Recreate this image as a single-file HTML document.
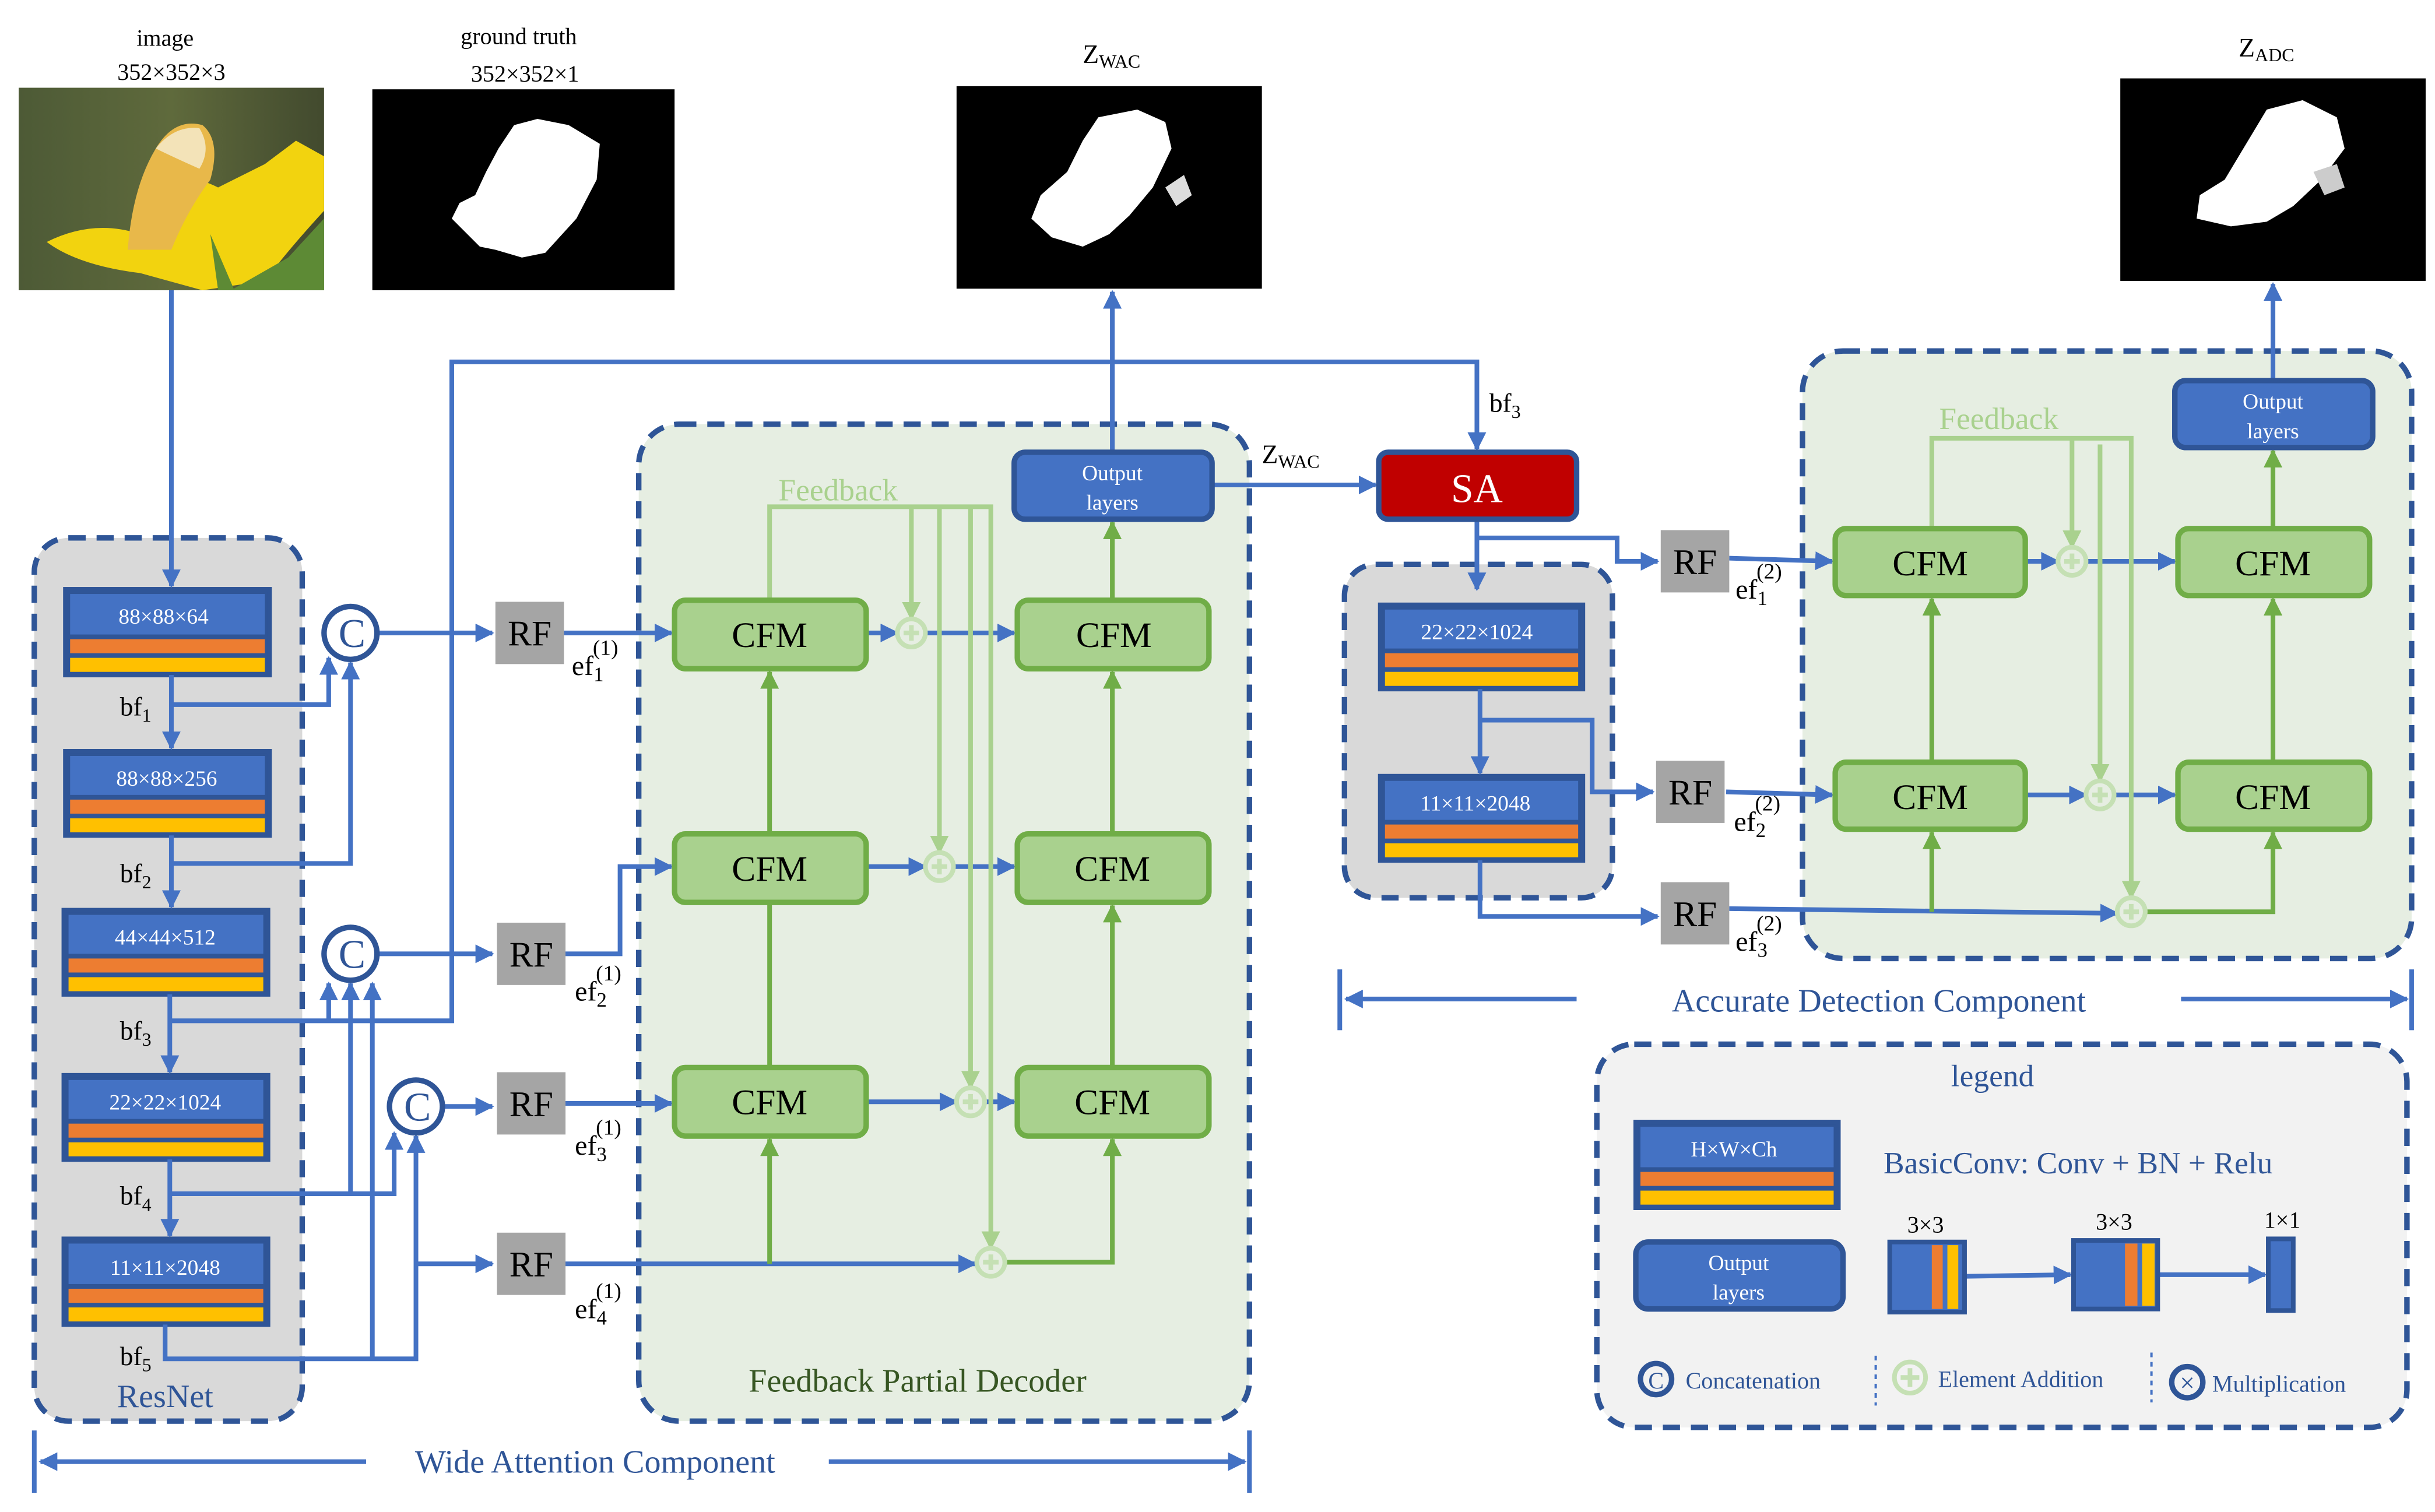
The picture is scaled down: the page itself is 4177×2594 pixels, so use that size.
<!DOCTYPE html>
<html><head><meta charset="utf-8"><style>
html,body{margin:0;padding:0;background:#fff;}
svg{display:block;}
text{font-family:"Liberation Serif",serif;}
</style></head><body>
<svg width="4177" height="2594" viewBox="0 0 1563 970" xmlns="http://www.w3.org/2000/svg">
<defs>
<marker id="ab" viewBox="0 0 10 10" refX="9" refY="5" markerWidth="4" markerHeight="4" orient="auto" markerUnits="strokeWidth"><path d="M0,0L10,5L0,10z" fill="#4472C4"/></marker>
<marker id="ag" viewBox="0 0 10 10" refX="9" refY="5" markerWidth="4" markerHeight="4" orient="auto" markerUnits="strokeWidth"><path d="M0,0L10,5L0,10z" fill="#70AD47"/></marker>
<marker id="al" viewBox="0 0 10 10" refX="9" refY="5" markerWidth="4" markerHeight="4" orient="auto" markerUnits="strokeWidth"><path d="M0,0L10,5L0,10z" fill="#A9D18E"/></marker>
<linearGradient id="bgimg" x1="0" x2="1" y1="0" y2="0"><stop offset="0" stop-color="#4d5a36"/><stop offset="0.5" stop-color="#5f6a3c"/><stop offset="1" stop-color="#424a2e"/></linearGradient>
</defs>

<text x="106" y="29" font-size="15" text-anchor="middle">image</text>
<text x="110" y="51" font-size="15" text-anchor="middle">352×352×3</text>
<text x="333" y="28" font-size="15" text-anchor="middle">ground truth</text>
<text x="337" y="52" font-size="15" text-anchor="middle">352×352×1</text>
<text x="695" y="40" font-size="17">Z<tspan font-size="12" dy="3">WAC</tspan></text>
<text x="1437" y="36" font-size="17">Z<tspan font-size="12" dy="3">ADC</tspan></text>

<rect x="12" y="56" width="196" height="130" fill="url(#bgimg)"/>
<path d="M30,155 Q60,140 90,150 L110,118 Q120,110 140,120 L170,105 L190,90 L208,100 L208,135 Q185,160 170,180 L130,186 L90,175 Q50,170 30,155z" fill="#f2d30f"/>
<path d="M82,160 Q85,120 100,95 Q112,75 130,80 Q142,90 135,115 Q120,135 110,160z" fill="#e8b84a"/>
<path d="M100,95 Q112,80 128,82 Q136,95 128,108 Q110,100 100,95z" fill="#f3e3b8"/>
<path d="M135,150 L150,185 L185,165 L208,140 L208,186 L140,186z" fill="#5d8a35"/>

<rect x="239" y="57" width="194" height="129" fill="#000"/>
<path d="M330,80 L345,76 L365,80 L385,92 L383,115 L370,140 L350,162 L335,165 L318,160 L308,158 L300,150 L290,140 L295,130 L305,125 L312,110 L320,95z" fill="#fff"/>
<rect x="614" y="55" width="196" height="130" fill="#000"/>
<path d="M705,75 L730,70 L748,78 L752,95 L740,120 L725,138 L712,150 L695,158 L675,152 L662,140 L668,125 L685,110 L695,90z" fill="#fff"/>
<path d="M748,120 L760,112 L765,125 L755,132z" fill="#ddd"/>
<rect x="1361" y="50" width="196" height="130" fill="#000"/>
<path d="M1455,70 L1478,64 L1500,75 L1505,95 L1490,115 L1472,132 L1455,142 L1432,145 L1410,140 L1412,125 L1428,115 L1440,95z" fill="#fff"/>
<path d="M1485,110 L1500,105 L1505,120 L1492,125z" fill="#ccc"/>

<rect x="22" y="345" width="172" height="567" rx="22" fill="#D9D9D9" stroke="#2F5597" stroke-width="3.5" stroke-dasharray="11,7"/>
<rect x="410" y="272" width="392" height="640" rx="26" fill="#E6EEE2" stroke="#2F5597" stroke-width="3.5" stroke-dasharray="11,7"/>
<rect x="863" y="362" width="172" height="214" rx="20" fill="#D9D9D9" stroke="#2F5597" stroke-width="3.5" stroke-dasharray="11,7"/>
<rect x="1157" y="225" width="391" height="390" rx="26" fill="#E6EEE2" stroke="#2F5597" stroke-width="3.5" stroke-dasharray="11,7"/>
<rect x="1025" y="670" width="520" height="246" rx="24" fill="#F2F2F2" stroke="#2F5597" stroke-width="3.5" stroke-dasharray="11,7"/>

<text x="106" y="903" font-size="21" fill="#2F5597" text-anchor="middle">ResNet</text>
<text x="589" y="893" font-size="21" fill="#375623" text-anchor="middle">Feedback Partial Decoder</text>

<g stroke="#2F5597" stroke-width="3">
<rect x="42" y="378" width="131" height="55" fill="#2F5597"/>
<rect x="42" y="482" width="131" height="54" fill="#2F5597"/>
<rect x="41" y="584" width="131" height="54" fill="#2F5597"/>
<rect x="41" y="690" width="131" height="54" fill="#2F5597"/>
<rect x="41" y="795" width="131" height="55" fill="#2F5597"/>
<rect x="886" y="388" width="130" height="54" fill="#2F5597"/>
<rect x="886" y="498" width="130" height="54" fill="#2F5597"/>
<rect x="1050" y="720" width="130" height="55" fill="#2F5597"/>
</g>
<g stroke="none">
<rect x="45" y="381" width="125" height="26" fill="#4472C4"/><rect x="45" y="410" width="125" height="9" fill="#ED7D31"/><rect x="45" y="422" width="125" height="9" fill="#FFC000"/>
<rect x="45" y="485" width="125" height="25" fill="#4472C4"/><rect x="45" y="513" width="125" height="9" fill="#ED7D31"/><rect x="45" y="525" width="125" height="9" fill="#FFC000"/>
<rect x="44" y="587" width="125" height="25" fill="#4472C4"/><rect x="44" y="615" width="125" height="9" fill="#ED7D31"/><rect x="44" y="627" width="125" height="9" fill="#FFC000"/>
<rect x="44" y="693" width="125" height="25" fill="#4472C4"/><rect x="44" y="721" width="125" height="9" fill="#ED7D31"/><rect x="44" y="733" width="125" height="9" fill="#FFC000"/>
<rect x="44" y="798" width="125" height="26" fill="#4472C4"/><rect x="44" y="827" width="125" height="9" fill="#ED7D31"/><rect x="44" y="839" width="125" height="9" fill="#FFC000"/>
<rect x="889" y="391" width="124" height="25" fill="#4472C4"/><rect x="889" y="419" width="124" height="9" fill="#ED7D31"/><rect x="889" y="431" width="124" height="9" fill="#FFC000"/>
<rect x="889" y="501" width="124" height="25" fill="#4472C4"/><rect x="889" y="529" width="124" height="9" fill="#ED7D31"/><rect x="889" y="541" width="124" height="9" fill="#FFC000"/>
<rect x="1053" y="723" width="124" height="26" fill="#4472C4"/><rect x="1053" y="752" width="124" height="9" fill="#ED7D31"/><rect x="1053" y="764" width="124" height="9" fill="#FFC000"/>
</g>
<g fill="#fff" font-size="14" text-anchor="middle">
<text x="105" y="400">88×88×64</text>
<text x="107" y="504">88×88×256</text>
<text x="106" y="606">44×44×512</text>
<text x="106" y="712">22×22×1024</text>
<text x="106" y="818">11×11×2048</text>
<text x="948" y="410">22×22×1024</text>
<text x="947" y="520">11×11×2048</text>
<text x="1113" y="742">H×W×Ch</text>
</g>

<g font-size="17">
<text x="77" y="459">bf<tspan font-size="12" dy="4">1</tspan></text>
<text x="77" y="566">bf<tspan font-size="12" dy="4">2</tspan></text>
<text x="77" y="667">bf<tspan font-size="12" dy="4">3</tspan></text>
<text x="77" y="773">bf<tspan font-size="12" dy="4">4</tspan></text>
<text x="77" y="876">bf<tspan font-size="12" dy="4">5</tspan></text>
<text x="956" y="264">bf<tspan font-size="12" dy="4">3</tspan></text>
<text x="810" y="297">Z<tspan font-size="12" dy="3">WAC</tspan></text>
</g>

<g fill="none" stroke="#4472C4" stroke-width="3">
<path d="M110,186V376" marker-end="url(#ab)"/>
<path d="M110,433V480" marker-end="url(#ab)"/>
<path d="M110,536V582" marker-end="url(#ab)"/>
<path d="M109,638V688" marker-end="url(#ab)"/>
<path d="M109,744V793" marker-end="url(#ab)"/>
<path d="M110,452H211V422" marker-end="url(#ab)"/>
<path d="M110,554H225V425" marker-end="url(#ab)"/>
<path d="M110,655H290V232H948V288" marker-end="url(#ab)"/>
<path d="M211,655V631" marker-end="url(#ab)"/>
<path d="M109,766H253V727" marker-end="url(#ab)"/>
<path d="M225,766V631" marker-end="url(#ab)"/>
<path d="M106,850V872H267V729" marker-end="url(#ab)"/>
<path d="M239,872V631" marker-end="url(#ab)"/>
<path d="M267,811H316" marker-end="url(#ab)"/>
<path d="M243,406H316" marker-end="url(#ab)"/>
<path d="M243,612H316" marker-end="url(#ab)"/>
<path d="M285,710H316" marker-end="url(#ab)"/>
<path d="M362,406H431" marker-end="url(#ab)"/>
<path d="M362,612H398V556H431" marker-end="url(#ab)"/>
<path d="M362,708H431" marker-end="url(#ab)"/>
<path d="M362,811H626" marker-end="url(#ab)"/>
<path d="M556,406H576" marker-end="url(#ab)"/>
<path d="M594,406H651" marker-end="url(#ab)"/>
<path d="M556,556H594" marker-end="url(#ab)"/>
<path d="M612,556H651" marker-end="url(#ab)"/>
<path d="M556,707H614" marker-end="url(#ab)"/>
<path d="M632,707H651" marker-end="url(#ab)"/>
<path d="M714,290V187" marker-end="url(#ab)"/>
<path d="M778,311H883" marker-end="url(#ab)"/>
<path d="M948,333V378" marker-end="url(#ab)"/>
<path d="M948,345H1038V360H1064" marker-end="url(#ab)"/>
<path d="M950,442V496" marker-end="url(#ab)"/>
<path d="M950,462H1022V508H1061" marker-end="url(#ab)"/>
<path d="M950,552V588H1064" marker-end="url(#ab)"/>
<path d="M1110,358L1176,360" marker-end="url(#ab)"/>
<path d="M1108,508L1176,510" marker-end="url(#ab)"/>
<path d="M1110,583L1359,586" marker-end="url(#ab)"/>
<path d="M1300,360H1321" marker-end="url(#ab)"/>
<path d="M1339,360H1396" marker-end="url(#ab)"/>
<path d="M1300,510H1339" marker-end="url(#ab)"/>
<path d="M1357,510H1396" marker-end="url(#ab)"/>
<path d="M1459,244V182" marker-end="url(#ab)"/>
<path d="M1262,819L1329,818" marker-end="url(#ab)"/>
<path d="M1385,818H1454" marker-end="url(#ab)"/>
</g>

<g fill="none" stroke="#70AD47" stroke-width="3">
<path d="M494,685V431" marker-end="url(#ag)"/>
<path d="M494,811V731" marker-end="url(#ag)"/>
<path d="M714,685V581" marker-end="url(#ag)"/>
<path d="M714,535V431" marker-end="url(#ag)"/>
<path d="M714,385V335" marker-end="url(#ag)"/>
<path d="M645,810H714V731" marker-end="url(#ag)"/>
<path d="M1240,489V384" marker-end="url(#ag)"/>
<path d="M1240,585V534" marker-end="url(#ag)"/>
<path d="M1377,585H1459V534" marker-end="url(#ag)"/>
<path d="M1459,489V384" marker-end="url(#ag)"/>
<path d="M1459,339V289" marker-end="url(#ag)"/>
</g>
<g fill="none" stroke="#A9D18E" stroke-width="3">
<path d="M494,385V325H636V801" marker-end="url(#al)"/>
<path d="M585,325V397" marker-end="url(#al)"/>
<path d="M603,325V547" marker-end="url(#al)"/>
<path d="M623,325V698" marker-end="url(#al)"/>
<path d="M1240,339V281H1368V576" marker-end="url(#al)"/>
<path d="M1330,281V351" marker-end="url(#al)"/>
<path d="M1348,285V501" marker-end="url(#al)"/>
</g>
<text x="538" y="321" font-size="20" fill="#A9D18E" text-anchor="middle">Feedback</text>
<text x="1283" y="275" font-size="20" fill="#A9D18E" text-anchor="middle">Feedback</text>

<g fill="none" stroke="#C5E0B4" stroke-width="3">
<circle cx="585" cy="406" r="9"/>
<circle cx="603" cy="556" r="9"/>
<circle cx="623" cy="707" r="9"/>
<circle cx="636" cy="810" r="9"/>
<circle cx="1330" cy="360" r="9"/>
<circle cx="1348" cy="510" r="9"/>
<circle cx="1368" cy="585" r="9"/>
<circle cx="1226" cy="884" r="10"/>
</g>
<g stroke="#C5E0B4" stroke-width="3">
<path d="M580,406h10M585,401v10M598,556h10M603,551v10M618,707h10M623,702v10M631,810h10M636,805v10M1325,360h10M1330,355v10M1343,510h10M1348,505v10M1363,585h10M1368,580v10M1220,884h12M1226,878v12"/>
</g>

<g fill="#fff" stroke="#2F5597" stroke-width="3.5">
<circle cx="225" cy="406" r="17"/>
<circle cx="225" cy="612" r="17"/>
<circle cx="267" cy="710" r="17"/>
<circle cx="1063" cy="885" r="10" fill="none"/>
<circle cx="1404" cy="887" r="10" fill="none"/>
</g>
<g fill="#2F5597" text-anchor="middle">
<text x="226" y="415" font-size="26">C</text>
<text x="226" y="621" font-size="26">C</text>
<text x="268" y="719" font-size="26">C</text>
<text x="1063" y="891" font-size="15">C</text>
<text x="1404" y="893" font-size="17">×</text>
</g>

<g fill="#A5A5A5">
<rect x="318" y="386" width="44" height="40"/>
<rect x="319" y="592" width="44" height="40"/>
<rect x="319" y="688" width="44" height="40"/>
<rect x="319" y="791" width="44" height="40"/>
<rect x="1066" y="340" width="44" height="40"/>
<rect x="1063" y="488" width="44" height="40"/>
<rect x="1066" y="566" width="44" height="40"/>
</g>
<g font-size="23" text-anchor="middle">
<text x="340" y="414">RF</text><text x="341" y="620">RF</text><text x="341" y="716">RF</text><text x="341" y="819">RF</text>
<text x="1088" y="368">RF</text><text x="1085" y="516">RF</text><text x="1088" y="594">RF</text>
</g>
<g font-size="18">
<text x="367" y="433">ef<tspan font-size="13" dy="4">1</tspan><tspan font-size="14" dx="-7" dy="-17">(1)</tspan></text>
<text x="369" y="642">ef<tspan font-size="13" dy="4">2</tspan><tspan font-size="14" dx="-7" dy="-17">(1)</tspan></text>
<text x="369" y="741">ef<tspan font-size="13" dy="4">3</tspan><tspan font-size="14" dx="-7" dy="-17">(1)</tspan></text>
<text x="369" y="846">ef<tspan font-size="13" dy="4">4</tspan><tspan font-size="14" dx="-7" dy="-17">(1)</tspan></text>
<text x="1114" y="384">ef<tspan font-size="13" dy="4">1</tspan><tspan font-size="14" dx="-7" dy="-17">(2)</tspan></text>
<text x="1113" y="533">ef<tspan font-size="13" dy="4">2</tspan><tspan font-size="14" dx="-7" dy="-17">(2)</tspan></text>
<text x="1114" y="610">ef<tspan font-size="13" dy="4">3</tspan><tspan font-size="14" dx="-7" dy="-17">(2)</tspan></text>
</g>

<g fill="#A9D18E" stroke="#70AD47" stroke-width="3.5">
<rect x="433" y="385" width="123" height="44" rx="7"/>
<rect x="653" y="385" width="123" height="44" rx="7"/>
<rect x="433" y="535" width="123" height="44" rx="7"/>
<rect x="653" y="535" width="123" height="44" rx="7"/>
<rect x="433" y="685" width="123" height="44" rx="7"/>
<rect x="653" y="685" width="123" height="44" rx="7"/>
<rect x="1178" y="339" width="122" height="43" rx="7"/>
<rect x="1398" y="339" width="123" height="43" rx="7"/>
<rect x="1178" y="489" width="122" height="43" rx="7"/>
<rect x="1398" y="489" width="123" height="43" rx="7"/>
</g>
<g font-size="23" text-anchor="middle">
<text x="494" y="415">CFM</text><text x="715" y="415">CFM</text>
<text x="494" y="565">CFM</text><text x="714" y="565">CFM</text>
<text x="494" y="715">CFM</text><text x="714" y="715">CFM</text>
<text x="1239" y="369">CFM</text><text x="1459" y="369">CFM</text>
<text x="1239" y="519">CFM</text><text x="1459" y="519">CFM</text>
</g>

<g fill="#4472C4" stroke="#2F5597" stroke-width="3.5">
<rect x="651" y="290" width="127" height="43" rx="7"/>
<rect x="1396" y="244" width="127" height="43" rx="7"/>
<rect x="1050" y="797" width="133" height="43" rx="8"/>
</g>
<g fill="#fff" font-size="14" text-anchor="middle">
<text x="714" y="308">Output</text><text x="714" y="327">layers</text>
<text x="1459" y="262">Output</text><text x="1459" y="281">layers</text>
<text x="1116" y="815">Output</text><text x="1116" y="834">layers</text>
</g>

<rect x="885" y="290" width="127" height="43" rx="6" fill="#C00000" stroke="#2F5597" stroke-width="3.5"/>
<text x="948" y="322" font-size="26" fill="#fff" text-anchor="middle">SA</text>

<g stroke="#4472C4" stroke-width="3" fill="none">
<path d="M22,918V958M802,918V958M860,622V661M1548,622V661"/>
<path d="M235,938H26" marker-end="url(#ab)"/>
<path d="M532,938H799" marker-end="url(#ab)"/>
<path d="M1012,641H864" marker-end="url(#ab)"/>
<path d="M1400,641H1545" marker-end="url(#ab)"/>
</g>
<text x="382" y="945" font-size="21" fill="#2F5597" text-anchor="middle">Wide Attention Component</text>
<text x="1206" y="649" font-size="21" fill="#2F5597" text-anchor="middle">Accurate Detection Component</text>

<text x="1279" y="697" font-size="20" fill="#2F5597" text-anchor="middle">legend</text>
<text x="1209" y="753" font-size="20" fill="#2F5597">BasicConv: Conv + BN + Relu</text>
<g font-size="15" text-anchor="middle">
<text x="1236" y="791">3×3</text><text x="1357" y="789">3×3</text><text x="1465" y="788">1×1</text>
</g>
<rect x="1213" y="797" width="48" height="45" fill="#4472C4" stroke="#2F5597" stroke-width="3"/>
<rect x="1240" y="799" width="7" height="41" fill="#ED7D31"/><rect x="1250" y="799" width="7" height="41" fill="#FFC000"/>
<rect x="1331" y="796" width="54" height="44" fill="#4472C4" stroke="#2F5597" stroke-width="3"/>
<rect x="1364" y="798" width="8" height="40" fill="#ED7D31"/><rect x="1375" y="798" width="8" height="40" fill="#FFC000"/>
<rect x="1456" y="795" width="16" height="46" fill="#4472C4" stroke="#2F5597" stroke-width="3"/>
<g font-size="15" fill="#2F5597">
<text x="1082" y="891">Concatenation</text>
<text x="1244" y="890">Element Addition</text>
<text x="1420" y="893">Multiplication</text>
</g>
<g stroke="#4472C4" stroke-width="1.5" stroke-dasharray="3,3"><path d="M1204,870V902M1381,868V900"/></g>
</svg>
</body></html>
